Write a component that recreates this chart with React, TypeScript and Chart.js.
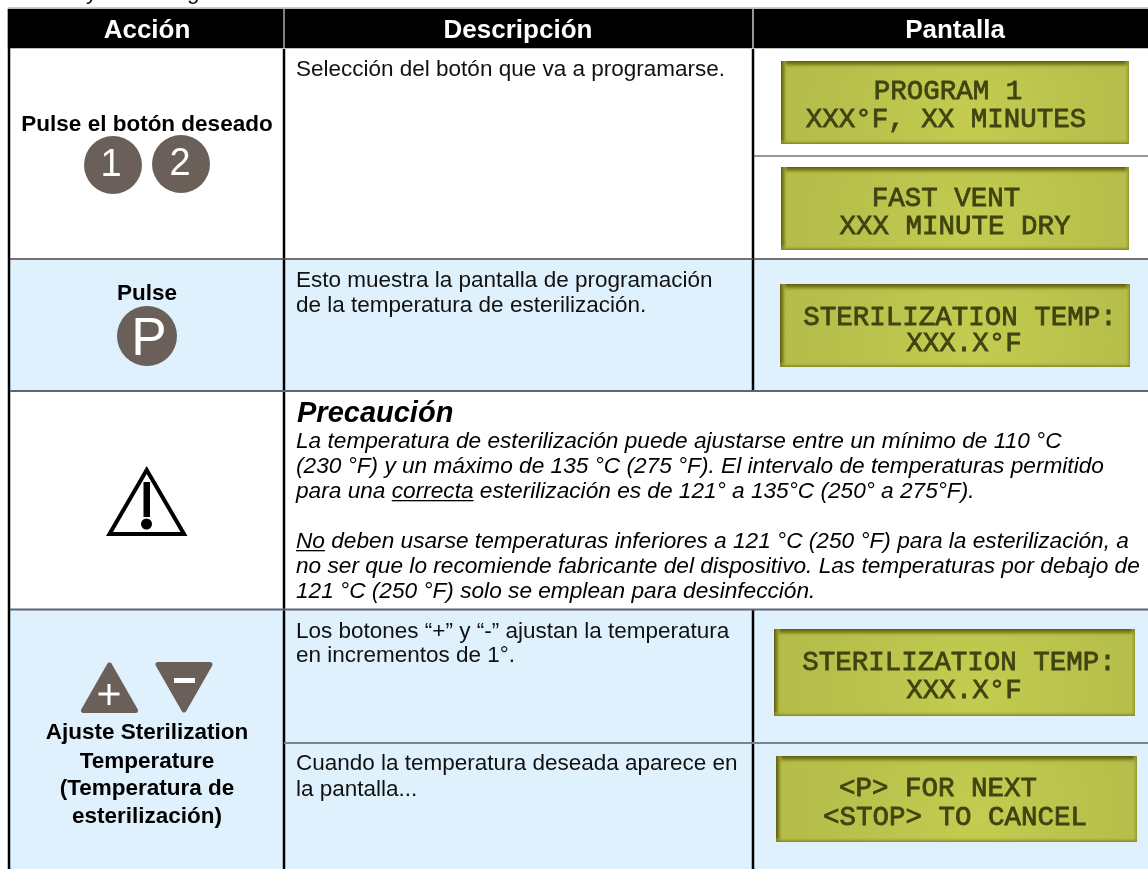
import React, { useEffect, useRef } from "react";
import { Chart, registerables } from "chart.js";

Chart.register(...registerables);

const SANS = '"Liberation Sans", Arial, sans-serif';
const MONO = '"Liberation Mono", monospace';
const BUTTON = "#6b5f5a";
const BLUE = "#dff1fc";

// Table layout, in table units (1 unit = 1 px on the page)
const tableBands = [
  { from: 8, to: 1148, top: 9, bottom: 48, color: "#000000" },
  { from: 10, to: 1148, top: 260, bottom: 391, color: BLUE },
  { from: 10, to: 1148, top: 610, bottom: 869, color: BLUE },
];
const buttonPoints = [
  { x: 113, y: 165, r: 29 },
  { x: 181, y: 164, r: 29 },
  { x: 147, y: 336, r: 30 },
];
const buttonLabels = [
  { t: "1", x: 111, y: 176, size: 38 },
  { t: "2", x: 180, y: 175, size: 38 },
  { t: "P", x: 149, y: 355, size: 53 },
];
const gridLines = [
  [8, 8, 1148, 8, "#bdbdbd", 1.5],
  [284, 9, 284, 48, "#ffffff", 1],
  [753, 9, 753, 48, "#c8c8c8", 1.5],
  [9, 48, 9, 869, "#000000", 2.5],
  [284, 49, 284, 391, "#000000", 2.5],
  [753, 49, 753, 391, "#000000", 2.5],
  [284, 391, 284, 869, "#000000", 2.5],
  [753, 610, 753, 869, "#000000", 2.5],
  [10, 259, 1148, 259, "#444444", 1.5],
  [753, 156, 1148, 156, "#333333", 1.2],
  [10, 391, 1148, 391, "#5a6670", 2],
  [10, 609.5, 1148, 609.5, "#5a6670", 2],
  [284, 743, 1148, 743, "#78838a", 2],
];
const headerCells = [
  { t: "Acción", x: 147 },
  { t: "Descripción", x: 518 },
  { t: "Pantalla", x: 955 },
];
const boldCenterLines = [
  { t: "Pulse el botón deseado", y: 131 },
  { t: "Pulse", y: 300 },
  { t: "Ajuste Sterilization", y: 739 },
  { t: "Temperature", y: 768 },
  { t: "(Temperatura de", y: 795 },
  { t: "esterilización)", y: 823 },
];
const descriptionLines = [
  { t: "Selección del botón que va a programarse.", y: 76 },
  { t: "Esto muestra la pantalla de programación", y: 287 },
  { t: "de la temperatura de esterilización.", y: 312 },
  { t: "Los botones “+” y “-” ajustan la temperatura", y: 638 },
  { t: "en incrementos de 1°.", y: 662 },
  { t: "Cuando la temperatura deseada aparece en", y: 770 },
  { t: "la pantalla...", y: 796 },
];
const cautionTitle = "Precaución";
const cautionLines: { y: number; runs: [string, boolean][] }[] = [
  { y: 448, runs: [["La temperatura de esterilización puede ajustarse entre un mínimo de 110 °C", false]] },
  { y: 473, runs: [["(230 °F) y un máximo de 135 °C (275 °F). El intervalo de temperaturas permitido", false]] },
  { y: 498, runs: [["para una ", false], ["correcta", true], [" esterilización es de 121° a 135°C (250° a 275°F).", false]] },
  { y: 548, runs: [["No", true], [" deben usarse temperaturas inferiores a 121 °C (250 °F) para la esterilización, a", false]] },
  { y: 573, runs: [["no ser que lo recomiende fabricante del dispositivo. Las temperaturas por debajo de", false]] },
  { y: 598, runs: [["121 °C (250 °F) solo se emplean para desinfección.", false]] },
];
const lcdPanels = [
  { x0: 781, x1: 1129, y0: 61, y1: 144, lines: [{ t: "PROGRAM 1", x: 948, y: 99 }, { t: "XXX°F, XX MINUTES", x: 946, y: 127 }] },
  { x0: 781, x1: 1129, y0: 167, y1: 250, lines: [{ t: "FAST VENT", x: 946, y: 206 }, { t: "XXX MINUTE DRY", x: 955, y: 234 }] },
  { x0: 780, x1: 1130, y0: 284, y1: 367, lines: [{ t: "STERILIZATION TEMP:", x: 960, y: 325 }, { t: "XXX.X°F", x: 964, y: 351 }] },
  { x0: 774, x1: 1135, y0: 629, y1: 716, lines: [{ t: "STERILIZATION TEMP:", x: 959, y: 670 }, { t: "XXX.X°F", x: 964, y: 698 }] },
  { x0: 776, x1: 1137, y0: 756, y1: 842, lines: [{ t: "<P> FOR NEXT", x: 938, y: 796 }, { t: "<STOP> TO CANCEL", x: 955, y: 825 }] },
];
const cutOffGlyphs = [
  { t: "y", x: 86, y: -1 },
  { t: "g", x: 187, y: -1 },
];

const tablePlugin = {
  id: "tablePlugin",
  afterDatasetsDraw(chart: any) {
    const ctx: CanvasRenderingContext2D = chart.ctx;
    const X = (v: number) => chart.scales.x.getPixelForValue(v);
    const Y = (v: number) => chart.scales.y.getPixelForValue(v);
    ctx.save();
    ctx.textBaseline = "alphabetic";

    for (const [x0, y0, x1, y1, color, w] of gridLines as any[]) {
      ctx.strokeStyle = color;
      ctx.lineWidth = w;
      ctx.beginPath();
      ctx.moveTo(X(x0), Y(y0));
      ctx.lineTo(X(x1), Y(y1));
      ctx.stroke();
    }

    // Cut-off line above the table
    ctx.fillStyle = "#111";
    ctx.font = `22.5px ${SANS}`;
    ctx.textAlign = "left";
    for (const g of cutOffGlyphs) ctx.fillText(g.t, X(g.x), Y(g.y));

    // Header
    ctx.fillStyle = "#fff";
    ctx.font = `bold 26px ${SANS}`;
    ctx.textAlign = "center";
    for (const h of headerCells) ctx.fillText(h.t, X(h.x), Y(38));

    // Left column
    ctx.fillStyle = "#000";
    ctx.font = `bold 22.5px ${SANS}`;
    for (const l of boldCenterLines) ctx.fillText(l.t, X(147), Y(l.y));

    // Button labels
    ctx.fillStyle = "#fff";
    for (const b of buttonLabels) {
      ctx.font = `${b.size}px ${SANS}`;
      ctx.fillText(b.t, X(b.x), Y(b.y));
    }

    // Plus / minus triangles
    const tri = (pts: number[][]) => {
      ctx.fillStyle = BUTTON;
      ctx.strokeStyle = BUTTON;
      ctx.lineWidth = 5;
      ctx.lineJoin = "round";
      ctx.beginPath();
      pts.forEach(([x, y], i) => (i ? ctx.lineTo(X(x), Y(y)) : ctx.moveTo(X(x), Y(y))));
      ctx.closePath();
      ctx.fill();
      ctx.stroke();
    };
    tri([[109.5, 665], [83.5, 710.5], [135.5, 710.5]]);
    tri([[184, 710], [158, 664.5], [210, 664.5]]);
    ctx.fillStyle = "#fff";
    ctx.fillRect(X(98.5), Y(692.5), 21, 3);
    ctx.fillRect(X(107.5), Y(684), 3, 21);
    ctx.fillRect(X(174), Y(678), 21, 5);

    // Warning triangle
    ctx.strokeStyle = "#000";
    ctx.lineWidth = 4;
    ctx.lineJoin = "miter";
    ctx.beginPath();
    ctx.moveTo(X(146.7), Y(470));
    ctx.lineTo(X(109.5), Y(534));
    ctx.lineTo(X(184), Y(534));
    ctx.closePath();
    ctx.stroke();
    ctx.fillStyle = "#000";
    ctx.fillRect(X(143.5), Y(482), 6.5, 35);
    ctx.beginPath();
    ctx.arc(X(146.5), Y(524), 5.5, 0, Math.PI * 2);
    ctx.fill();

    // Description column
    ctx.textAlign = "left";
    ctx.fillStyle = "#111";
    ctx.font = `22.5px ${SANS}`;
    for (const l of descriptionLines) ctx.fillText(l.t, X(296), Y(l.y));

    // Caution block
    ctx.fillStyle = "#000";
    ctx.font = `italic bold 29px ${SANS}`;
    ctx.fillText(cautionTitle, X(297), Y(422));
    ctx.font = `italic 22.66px ${SANS}`;
    for (const line of cautionLines) {
      let x = X(296);
      for (const [text, underlined] of line.runs) {
        ctx.fillText(text, x, Y(line.y));
        const w = ctx.measureText(text).width;
        if (underlined) ctx.fillRect(x, Y(line.y) + 2, w, 1.3);
        x += w;
      }
    }

    // LCD panels
    for (const p of lcdPanels) {
      const x = X(p.x0), y = Y(p.y0), w = X(p.x1) - x, h = Y(p.y1) - y;
      ctx.fillStyle = "#bac24f";
      ctx.fillRect(x, y, w, h);
      const glow = ctx.createRadialGradient(x + w * 0.55, y + h * 0.7, 5, x + w * 0.55, y + h * 0.7, w * 0.55);
      glow.addColorStop(0, "rgba(198,207,80,0.8)");
      glow.addColorStop(1, "rgba(175,183,70,0.5)");
      ctx.fillStyle = glow;
      ctx.fillRect(x, y, w, h);
      const top = ctx.createLinearGradient(0, y, 0, y + 8);
      top.addColorStop(0, "#5c5a0c");
      top.addColorStop(0.4, "#85871f");
      top.addColorStop(1, "rgba(186,194,79,0)");
      ctx.fillStyle = top;
      ctx.fillRect(x, y, w, 8);
      const left = ctx.createLinearGradient(x, 0, x + 7, 0);
      left.addColorStop(0, "#5c5a0c");
      left.addColorStop(0.45, "#8e9126");
      left.addColorStop(1, "rgba(186,194,79,0)");
      ctx.fillStyle = left;
      ctx.fillRect(x, y, 7, h);
      const right = ctx.createLinearGradient(x + w - 5, 0, x + w, 0);
      right.addColorStop(0, "rgba(186,194,79,0)");
      right.addColorStop(1, "#8f9327");
      ctx.fillStyle = right;
      ctx.fillRect(x + w - 5, y, 5, h);
      const bottom = ctx.createLinearGradient(0, y + h - 5, 0, y + h);
      bottom.addColorStop(0, "rgba(186,194,79,0)");
      bottom.addColorStop(1, "#80841f");
      ctx.fillStyle = bottom;
      ctx.fillRect(x, y + h - 5, w, 5);

      ctx.save();
      ctx.filter = "blur(0.7px)";
      ctx.fillStyle = "#3f4410";
      ctx.strokeStyle = "#3f4410";
      ctx.lineWidth = 0.8;
      ctx.font = `27.5px ${MONO}`;
      ctx.textAlign = "center";
      for (const l of p.lines) {
        ctx.fillText(l.t, X(l.x), Y(l.y));
        ctx.strokeText(l.t, X(l.x), Y(l.y));
      }
      ctx.restore();
    }
    ctx.restore();
  },
};

export default function App() {
  const ref = useRef<HTMLCanvasElement>(null);
  useEffect(() => {
    const chart = new Chart(ref.current!, {
      type: "bar",
      data: {
        datasets: [
          ...tableBands.map((b) => ({
            type: "bar" as const,
            indexAxis: "y" as const,
            data: [{ x: [b.from, b.to], y: (b.top + b.bottom) / 2 }],
            backgroundColor: b.color,
            barThickness: b.bottom - b.top,
            grouped: false,
            xAxisID: "x",
            yAxisID: "y",
            order: 2,
          })),
          {
            type: "scatter" as const,
            indexAxis: "x" as const,
            data: buttonPoints.map((p) => ({ x: p.x, y: p.y })),
            pointRadius: buttonPoints.map((p) => p.r),
            pointBackgroundColor: BUTTON,
            pointBorderWidth: 0,
            showLine: false,
            xAxisID: "x",
            yAxisID: "y",
            order: 1,
          },
        ] as any,
      },
      plugins: [tablePlugin],
      options: {
        responsive: false,
        animation: false,
        indexAxis: "y",
        layout: { padding: 0, autoPadding: false },
        plugins: { legend: { display: false }, tooltip: { enabled: false } },
        events: [],
        scales: {
          x: { type: "linear", min: 0, max: 1148, display: false, offset: false },
          y: { type: "linear", min: 0, max: 869, reverse: true, display: false, offset: false },
        },
      } as any,
    });
    return () => chart.destroy();
  }, []);
  return (
    <div style={{ position: "absolute", left: 0, top: 0, width: 1148, height: 869, background: "#fff" }}>
      <canvas ref={ref} width={1148} height={869} style={{ display: "block" }} />
    </div>
  );
}
